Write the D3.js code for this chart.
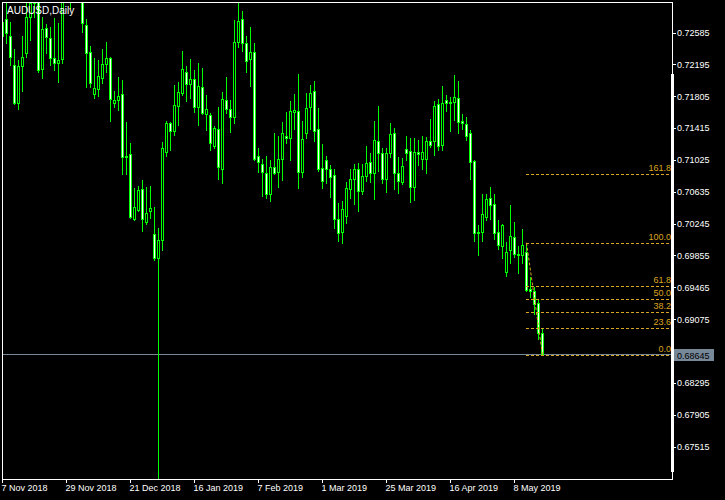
<!DOCTYPE html>
<html><head><meta charset="utf-8">
<script src="https://cdn.jsdelivr.net/npm/d3@7"></script>
<style>
html,body{margin:0;padding:0;background:#000;overflow:hidden;}
svg{display:block;}
text{font-family:"Liberation Sans",Arial,sans-serif;}
</style></head><body>
<svg id="c" width="725" height="500"></svg>
<script>
const title = "AUDUSD,Daily";
const open = [0.72542,0.72750,0.72542,0.72187,0.71722,0.72175,0.72334,0.72775,0.72946,0.73007,
0.72138,0.72640,0.72518,0.72273,0.72212,0.72260,0.73007,0.73289,0.73473,0.73840,
0.73105,0.72677,0.72346,0.71832,0.71893,0.72028,0.72199,0.72273,0.71722,0.71758,
0.71832,0.71073,0.71097,0.70301,0.70412,0.70669,0.70265,0.70399,0.70118,0.69824,
0.70044,0.71122,0.71477,0.71379,0.71685,0.71844,0.72101,0.71954,0.72016,0.71673,
0.71918,0.71587,0.71575,0.71195,0.71403,0.70914,0.71758,0.71648,0.71550,0.72469,
0.72750,0.72456,0.72260,0.72346,0.71073,0.70975,0.70865,0.70607,0.70938,0.70877,
0.71036,0.71318,0.71293,0.71612,0.71624,0.70877,0.71354,0.71673,0.71869,0.71403,
0.70926,0.71024,0.70914,0.70840,0.70301,0.70142,0.70338,0.70669,0.70791,0.70914,
0.70644,0.70828,0.70999,0.70865,0.71256,0.71109,0.70791,0.71109,0.71354,0.70865,
0.70754,0.71158,0.71134,0.70693,0.71122,0.71036,0.71036,0.71256,0.71256,0.71709,
0.71207,0.71758,0.71734,0.71734,0.71783,0.71501,0.71465,0.71354,0.71012,0.70142,
0.70142,0.70326,0.70558,0.70485,0.70142,0.69971,0.69652,0.69922,0.70081,0.69873,
0.69861,0.69897,0.69444,0.69420,0.69273,0.68905];
const high = [0.72763,0.72946,0.72714,0.72383,0.72248,0.72542,0.72946,0.73044,0.73130,0.73081,
0.72775,0.72689,0.72652,0.72763,0.72701,0.73105,0.73473,0.73534,0.74024,0.74024,
0.73228,0.72750,0.72420,0.72273,0.72248,0.72383,0.72469,0.72285,0.71869,0.72040,
0.72003,0.71489,0.71232,0.70681,0.70705,0.70779,0.70693,0.70705,0.70448,0.70191,
0.71244,0.71501,0.71489,0.71942,0.71979,0.72358,0.72175,0.72260,0.72126,0.72212,
0.72150,0.71820,0.71599,0.71440,0.71673,0.71856,0.72040,0.71758,0.72738,0.72946,
0.72848,0.72542,0.72652,0.72456,0.71171,0.71036,0.71073,0.71024,0.71354,0.71318,
0.71489,0.71612,0.71746,0.71832,0.72077,0.71501,0.71844,0.71942,0.71991,0.71660,
0.71220,0.71073,0.70963,0.70914,0.70497,0.70522,0.70754,0.70914,0.70975,0.70987,
0.70975,0.71195,0.71109,0.71501,0.71685,0.71171,0.71171,0.71477,0.71416,0.71060,
0.71048,0.71318,0.71293,0.71293,0.71269,0.71318,0.71305,0.71526,0.71746,0.71771,
0.71930,0.71820,0.71795,0.72065,0.71991,0.71587,0.71550,0.71391,0.71024,0.70228,
0.70607,0.70607,0.70693,0.70607,0.70289,0.70240,0.70020,0.70473,0.70265,0.69971,
0.70179,0.70010,0.69591,0.69469,0.69322,0.68967];
const low = [0.72432,0.72456,0.72187,0.71709,0.71648,0.71869,0.72285,0.72493,0.72775,0.72101,
0.72028,0.72334,0.72187,0.72126,0.71979,0.72212,0.72990,0.72885,0.73350,0.73044,
0.72591,0.71918,0.71918,0.71783,0.71807,0.71967,0.72101,0.71501,0.71673,0.71636,
0.70852,0.70852,0.70314,0.70289,0.70399,0.70154,0.70240,0.70314,0.69799,0.67100,
0.69922,0.71073,0.71146,0.71330,0.71452,0.71820,0.71746,0.71783,0.71612,0.71452,
0.71587,0.71391,0.71146,0.71171,0.70791,0.70742,0.71599,0.71367,0.71477,0.72407,
0.72358,0.72101,0.71930,0.71024,0.70877,0.70583,0.70558,0.70522,0.70852,0.70693,
0.70779,0.71232,0.71024,0.71403,0.70681,0.70816,0.71293,0.71403,0.71256,0.70889,
0.70681,0.70742,0.70571,0.70191,0.70032,0.70008,0.70252,0.70558,0.70485,0.70399,
0.70607,0.70767,0.70754,0.70546,0.70889,0.70742,0.70632,0.71060,0.70669,0.70620,
0.70730,0.71024,0.70509,0.70534,0.70963,0.70914,0.70865,0.71183,0.71085,0.71146,
0.71146,0.71624,0.71379,0.71514,0.71354,0.71403,0.71269,0.70791,0.70032,0.69861,
0.70032,0.70289,0.70301,0.70056,0.69934,0.69824,0.69603,0.69763,0.69836,0.69640,
0.69763,0.69420,0.69346,0.69138,0.68832,0.68638];
const close = [0.72714,0.72579,0.72285,0.71722,0.72175,0.72285,0.72775,0.72946,0.73056,0.72126,
0.72628,0.72530,0.72273,0.72212,0.72248,0.73007,0.73289,0.73350,0.73840,0.73289,
0.72701,0.72334,0.71967,0.71905,0.72052,0.72199,0.72273,0.71771,0.71758,0.71807,
0.71060,0.71060,0.70326,0.70448,0.70656,0.70301,0.70375,0.70436,0.69824,0.70044,
0.71171,0.71477,0.71379,0.71697,0.71856,0.72138,0.71954,0.72016,0.71673,0.71930,
0.71599,0.71648,0.71232,0.71416,0.70938,0.71771,0.71648,0.71550,0.72469,0.72726,
0.72456,0.72236,0.72346,0.71036,0.70999,0.70877,0.70607,0.70938,0.70865,0.71036,
0.71354,0.71293,0.71624,0.71636,0.70877,0.71281,0.71660,0.71844,0.71379,0.70914,
0.70767,0.70914,0.70816,0.70301,0.70130,0.70424,0.70681,0.70791,0.70914,0.70644,
0.70828,0.70987,0.70865,0.71269,0.71109,0.70791,0.71109,0.71342,0.70865,0.70767,
0.70950,0.71109,0.70693,0.71122,0.71097,0.71122,0.71256,0.71207,0.71685,0.71195,
0.71722,0.71722,0.71722,0.71795,0.71489,0.71477,0.71318,0.70999,0.70130,0.70130,
0.70363,0.70546,0.70473,0.70130,0.69983,0.70228,0.69897,0.70093,0.69873,0.69861,
0.69983,0.69432,0.69420,0.69260,0.68905,0.68645];
const xTickIndex = [0,16,32,48,64,80,96,112,128];
const xTickLabels = ["7 Nov 2018","29 Nov 2018","21 Dec 2018","16 Jan 2019","7 Feb 2019","1 Mar 2019","25 Mar 2019","16 Apr 2019","8 May 2019"];
const yTicks = [0.72585,0.72195,0.71805,0.71415,0.71025,0.70635,0.70245,0.69855,0.69465,0.69075,0.68685,0.68295,0.67905,0.67515];
const lastPrice = 0.68645;
const fibStartIndex = 131, fibEndIndex = 135;
const fibHigh = 0.70010, fibLow = 0.68638;
const fibRatios = [0.0, 23.6, 38.2, 50.0, 61.8, 100.0, 161.8];

const GREEN = "#00ff00", FIB = "#daa520", PRICE = "#778899";
const svg = d3.select("#c").attr("shape-rendering","crispEdges");
svg.append("rect").attr("width",725).attr("height",500).attr("fill","#000");

const x = d3.scaleLinear().domain([0, 135]).range([2, 542]);
const y = d3.scaleLinear().domain([0.72585, 0.67515]).range([32.5, 446.5]);
const L = 2, R = 672, T = 2, B = 479;

svg.append("defs").append("clipPath").attr("id","clip")
  .append("rect").attr("x",L+1).attr("y",T+1).attr("width",R-L-1).attr("height",B-T-1);

// price line
svg.append("line").attr("x1",L).attr("x2",R).attr("y1",Math.round(y(lastPrice))+0.5).attr("y2",Math.round(y(lastPrice))+0.5)
  .attr("stroke",PRICE);

const g = svg.append("g").attr("clip-path","url(#clip)");
const idx = d3.range(open.length);
const px = i => Math.round(x(i));
const yTop = i => Math.round(y(Math.max(open[i],close[i])));
const yBot = i => Math.round(y(Math.min(open[i],close[i])));
g.selectAll("line.wick").data(idx).join("line").attr("class","wick")
  .attr("x1",i=>px(i)+0.5).attr("x2",i=>px(i)+0.5)
  .attr("y1",i=>Math.round(y(high[i]))).attr("y2",i=>Math.round(y(low[i]))+1)
  .attr("stroke",GREEN);
g.selectAll("rect.body").data(idx.filter(i=>yBot(i)-yTop(i)>=1)).join("rect").attr("class","body")
  .attr("x",i=>px(i)-0.5).attr("y",i=>yTop(i)+0.5)
  .attr("width",2).attr("height",i=>yBot(i)-yTop(i))
  .attr("fill",i=>close[i]<open[i]?"#fff":"#000").attr("stroke",GREEN);
g.selectAll("line.doji").data(idx.filter(i=>yBot(i)-yTop(i)<1)).join("line").attr("class","doji")
  .attr("x1",i=>px(i)-1).attr("x2",i=>px(i)+2)
  .attr("y1",i=>yTop(i)+0.5).attr("y2",i=>yTop(i)+0.5).attr("stroke",GREEN);

// fibonacci
const fx0 = px(fibStartIndex), fx1 = px(fibEndIndex);
const fg = svg.append("g").attr("clip-path","url(#clip)");
fg.append("line").attr("x1",fx0+0.5).attr("y1",y(fibHigh)).attr("x2",fx1+0.5).attr("y2",y(fibLow))
  .attr("stroke",FIB).attr("stroke-dasharray","3,2").attr("shape-rendering","auto");
fibRatios.forEach(r => {
  const p = fibLow + (fibHigh - fibLow) * r / 100;
  const ly = Math.round(y(p)) + 0.5;
  fg.append("line").attr("x1",fx0).attr("x2",R).attr("y1",ly).attr("y2",ly)
    .attr("stroke",FIB).attr("stroke-dasharray","3,2");
  fg.append("text").attr("x",671).attr("y",ly-3.5).attr("text-anchor","end")
    .attr("fill",FIB).style("font-size","9px").text(d3.format(".1f")(r));
});

// frame
svg.append("line").attr("x1",L+0.5).attr("x2",L+0.5).attr("y1",T).attr("y2",B+1).attr("stroke","#fff");
svg.append("line").attr("x1",L).attr("x2",R+1).attr("y1",T+0.5).attr("y2",T+0.5).attr("stroke","#fff");
svg.append("line").attr("x1",R+0.5).attr("x2",R+0.5).attr("y1",T).attr("y2",B+1).attr("stroke","#fff");
svg.append("line").attr("x1",L).attr("x2",R+1).attr("y1",B+0.5).attr("y2",B+0.5).attr("stroke","#fff");
svg.append("rect").attr("x",671).attr("y",74).attr("width",3).attr("height",398).attr("fill","#fff");

// axes (the tick label under the current-price box is hidden, as in the reference)
const fmt5 = d3.format(".5f");
const gy = svg.append("g").attr("transform",`translate(${R},0)`)
  .call(d3.axisRight(y).tickValues(yTicks).tickSize(4).tickPadding(1)
    .tickFormat(d => Math.abs(d - lastPrice) < 0.0008 ? "" : fmt5(d)));
gy.select(".domain").remove();
gy.selectAll("line").attr("stroke","#fff");
gy.selectAll("text").attr("fill","#fff").style("font-size","9px").style("font-family","Liberation Sans, Arial, sans-serif");

const gx = svg.append("g").attr("transform",`translate(0,${B})`)
  .call(d3.axisBottom(x).tickValues(xTickIndex).tickSize(4).tickPadding(2).tickFormat((d,i)=>xTickLabels[i]));
gx.select(".domain").remove();
gx.selectAll("line").attr("stroke","#fff");
gx.selectAll("text").attr("fill","#fff").attr("text-anchor","start").attr("x",-1)
  .style("font-size","9px").style("font-family","Liberation Sans, Arial, sans-serif");

// price label
const py = Math.round(y(lastPrice));
svg.append("rect").attr("x",674).attr("y",py-5).attr("width",40).attr("height",12).attr("fill",PRICE);
svg.append("text").attr("x",677).attr("y",py+4.5).attr("fill","#000").style("font-size","9px")
  .text(fmt5(lastPrice));

// title
svg.append("text").attr("x",7).attr("y",14).attr("fill","#fff").style("font-size","10px").text(title);
</script>
</body></html>
